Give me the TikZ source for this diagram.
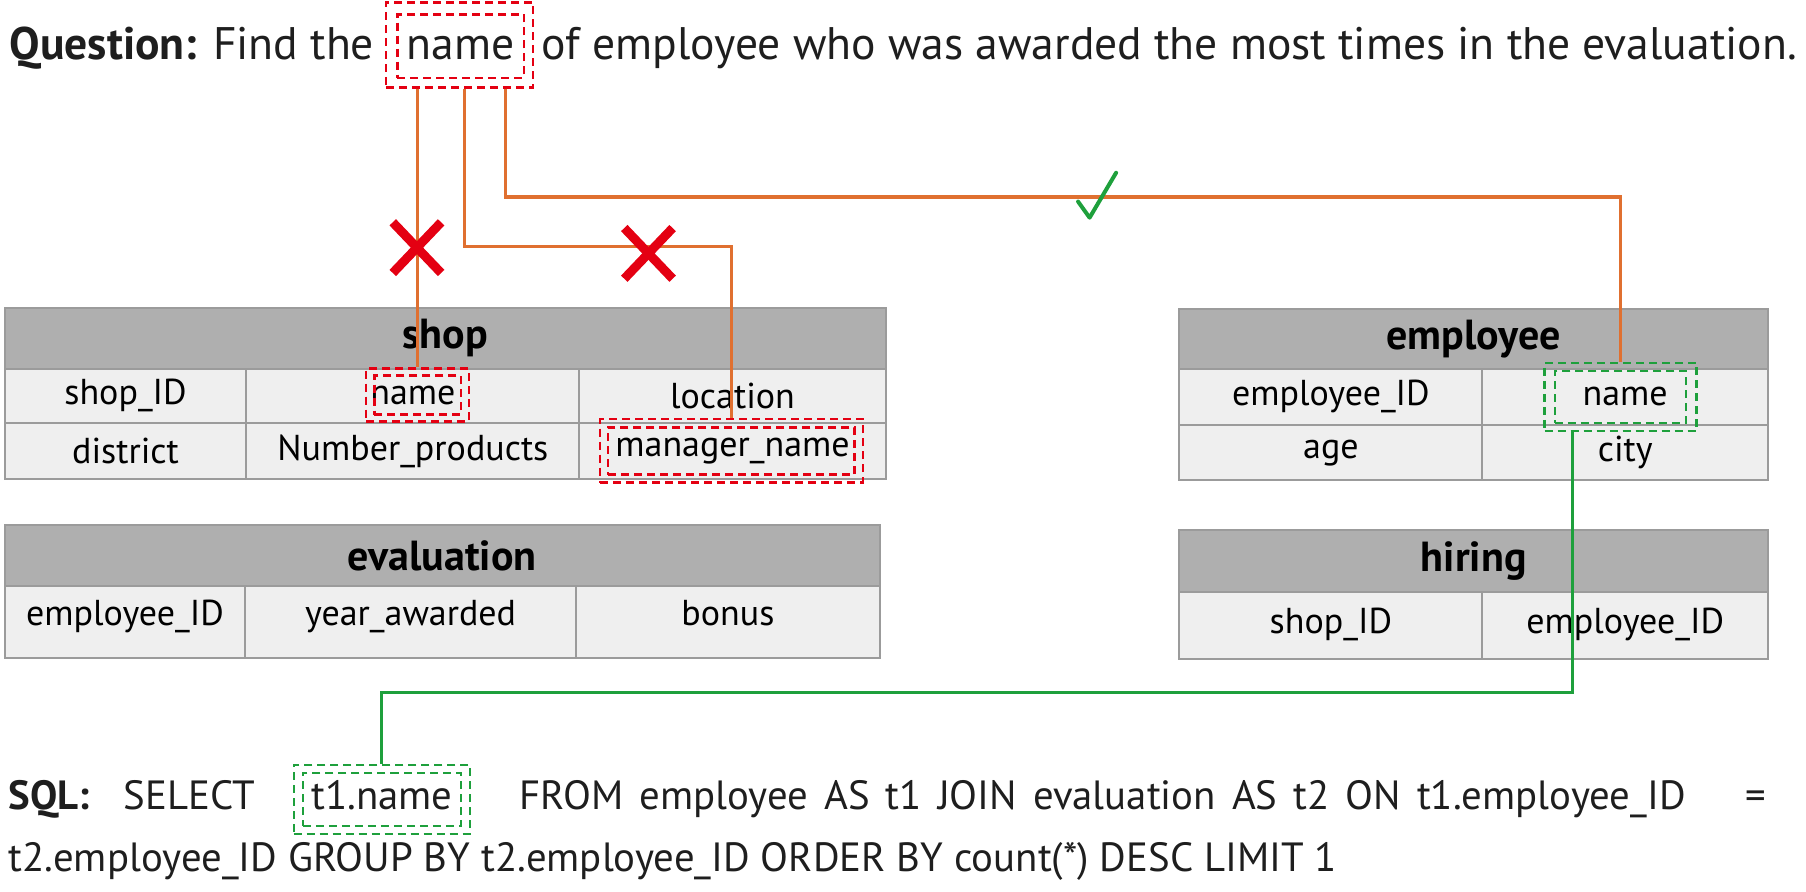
\documentclass[tikz,border=0pt]{standalone}
\usepackage{fontspec}
\setmainfont{PT Sans}
\usetikzlibrary{calc}
\definecolor{orng}{RGB}{224,112,48}
\definecolor{redd}{RGB}{228,0,18}
\definecolor{grn}{RGB}{30,160,60}
\definecolor{hdr}{RGB}{175,175,175}
\definecolor{rowc}{RGB}{239,239,239}
\definecolor{brd}{RGB}{155,155,155}
\definecolor{txt}{RGB}{30,30,30}
\newcommand{\tcell}[7]{\node[#1, minimum width={(#5-#3)*0.5759pt}, minimum height={(#6-#4)*0.5759pt}] (#2) at ({(#3+#5)/2},{(#4+#6)/2}) {#7};}
\begin{document}
\begin{tikzpicture}[x=0.5759pt,y=-0.5759pt,
  hdrcell/.style={draw=brd, fill=hdr, line width=1pt, inner sep=0pt, text=black, font=\fontsize{21}{24}\selectfont\bfseries},
  cell/.style={draw=brd, fill=rowc, line width=1pt, inner sep=0pt, text=black, font=\fontsize{18}{21}\selectfont},
  qtext/.style={inner sep=0pt, text=txt, font=\fontsize{22.8}{26}\selectfont},
  sqltext/.style={inner sep=0pt, text=txt, font=\fontsize{20.4}{24}\selectfont},
  rbox/.style={draw=redd, line width=1.2pt, dash pattern=on 4pt off 2.5pt, inner sep=0pt},
  gbox/.style={draw=grn, line width=1.2pt, dash pattern=on 4pt off 2.5pt, inner sep=0pt},
  oline/.style={draw=orng, line width=1.6pt},
  gline/.style={draw=grn, line width=1.6pt},
  xmark/.style={draw=redd, line width=4.5pt},
  cmark/.style={draw=grn, line width=2pt, line cap=round, line join=round}]
\useasboundingbox (0,0) rectangle (1568,774);
% question
\node[qtext, anchor=base west] (q1) at (8,52) {\textbf{Question:} Find the};
\node[qtext, anchor=base] (qname) at (400,52) {name};
\node[qtext, anchor=base west] (q2) at (470,52) {of employee who was awarded the most times in the evaluation.};
\node[rbox, minimum width={128*0.5759pt}, minimum height={74*0.5759pt}] (qbox) at (399,39) {};
\node[rbox, minimum width={110*0.5759pt}, minimum height={55*0.5759pt}] (qboxi) at (400,40) {};
% shop table
\tcell{hdrcell}{shop}{4}{267}{769}{320}{shop}
\tcell{cell}{s11}{4}{320}{214}{367}{shop\_ID}
\tcell{cell}{s12}{214}{320}{503}{367}{name}
\tcell{cell}{s13}{503}{320}{769}{367}{location}
\tcell{cell}{s21}{4}{367}{214}{416}{district}
\tcell{cell}{s22}{214}{367}{503}{416}{Number\_products}
\tcell{cell}{s23}{503}{367}{769}{416}{manager\_name}
% evaluation table
\tcell{hdrcell}{evaluation}{4}{456}{764}{509}{evaluation}
\tcell{cell}{e11}{4}{509}{213}{571}{\raisebox{9pt}{employee\_ID}}
\tcell{cell}{e12}{213}{509}{500}{571}{\raisebox{9pt}{year\_awarded}}
\tcell{cell}{e13}{500}{509}{764}{571}{\raisebox{9pt}{bonus}}
% employee table
\tcell{hdrcell}{employee}{1024}{268}{1535}{320}{employee}
\tcell{cell}{m11}{1024}{320}{1287}{369}{employee\_ID}
\tcell{cell}{m12}{1287}{320}{1535}{369}{name}
\tcell{cell}{m21}{1024}{369}{1287}{417}{age}
\tcell{cell}{m22}{1287}{369}{1535}{417}{city}
% hiring table
\tcell{hdrcell}{hiring}{1024}{460}{1535}{514}{hiring}
\tcell{cell}{h11}{1024}{514}{1287}{572}{\raisebox{5pt}{shop\_ID}}
\tcell{cell}{h12}{1287}{514}{1535}{572}{\raisebox{5pt}{employee\_ID}}
% highlight boxes
\node[rbox, minimum width={89*0.5759pt}, minimum height={46*0.5759pt}] (sbox) at (362.5,343) {};
\node[rbox, minimum width={75*0.5759pt}, minimum height={34*0.5759pt}] (sboxi) at (362.5,343) {};
\node[rbox, minimum width={228*0.5759pt}, minimum height={55*0.5759pt}] (mbox) at (635,391.5) {};
\node[rbox, minimum width={214*0.5759pt}, minimum height={41*0.5759pt}] (mboxi) at (635,391.5) {};
\node[gbox, minimum width={132*0.5759pt}, minimum height={59*0.5759pt}] (ebox) at (1407,344.5) {};
\node[gbox, minimum width={114*0.5759pt}, minimum height={45*0.5759pt}] (eboxi) at (1407,344.5) {};
% SQL
\node[sqltext, anchor=base west] (sql1) at (7,703) {\textbf{SQL:}};
\node[sqltext, anchor=base west] (sql2) at (107,703) {SELECT};
\node[sqltext, anchor=base] (tname) at (331.5,703) {t1.name};
\node[sqltext, anchor=base west] (sql3) at (451,703) {\makebox[{583pt}][s]{FROM employee AS t1 JOIN evaluation AS t2 ON t1.employee\_ID}};
\node[sqltext, anchor=base east] (sqleq) at (1534,703) {=};
\node[sqltext, anchor=base west] (sql4) at (7,757) {t2.employee\_ID GROUP BY t2.employee\_ID ORDER BY count(*) DESC LIMIT 1};
\node[gbox, minimum width={153*0.5759pt}, minimum height={60*0.5759pt}] (tbox) at (331.5,694) {};
\node[gbox, minimum width={137*0.5759pt}, minimum height={46*0.5759pt}] (tboxi) at (331.5,694) {};
% connectors
\coordinate (j2) at (403,214);
\coordinate (j3) at (439,171);
\coordinate (g1) at (1365,601);
\draw[oline] (sbox.north |- qbox.south) -- (sbox.north);
\draw[oline] (j2 |- qbox.south) -- (j2) -| (mbox.north);
\draw[oline] (j3 |- qbox.south) -- (j3) -| (ebox.north);
\draw[gline] (g1 |- ebox.south) -- (g1) -| (tbox.north);
% marks
\coordinate (x1) at (362,215);
\coordinate (x2) at (563,220);
\draw[xmark] ([shift={(-21,-22)}]x1) -- ([shift={(21,22)}]x1);
\draw[xmark] ([shift={(21,-22)}]x1) -- ([shift={(-21,22)}]x1);
\draw[xmark] ([shift={(-21,-22)}]x2) -- ([shift={(21,22)}]x2);
\draw[xmark] ([shift={(21,-22)}]x2) -- ([shift={(-21,22)}]x2);
\coordinate (ck) at (946,189);
\draw[cmark] ([shift={(-10,-14)}]ck) -- (ck) -- ([shift={(23,-39)}]ck);
\end{tikzpicture}
\end{document}
